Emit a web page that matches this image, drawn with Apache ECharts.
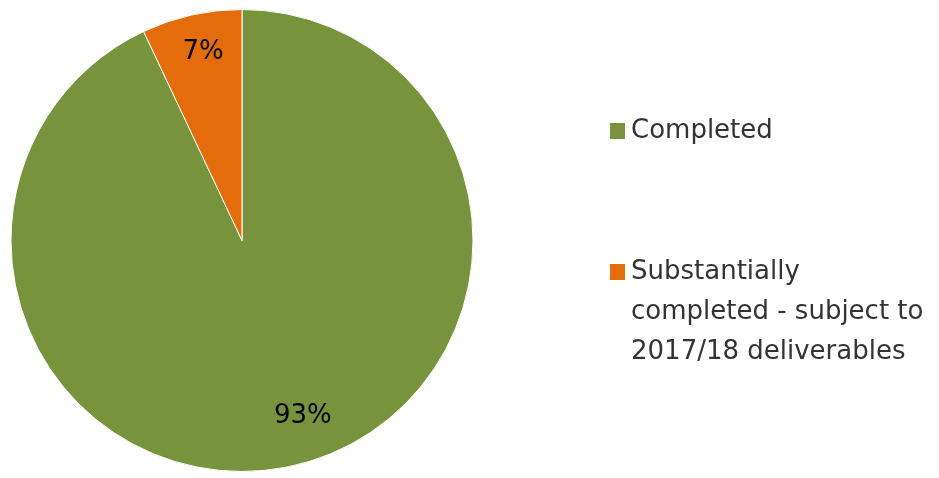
<!DOCTYPE html>
<html>
<head>
<meta charset="utf-8">
<script src="https://cdn.jsdelivr.net/npm/echarts@6/dist/echarts.min.js"></script>
<style>html,body{margin:0;padding:0;background:#fff}#c{width:939px;height:478px}</style>
</head>
<body>
<div id="c"></div>
<script>
const categories = ['Completed', 'Substantially completed - subject to 2017/18 deliverables'];
const legendLabels = ['Completed', '\n\nSubstantially\ncompleted - subject to\n2017/18 deliverables'];
const values = [93, 7];
const colors = ['#77933C', '#E46C0A'];

const chart = echarts.init(document.getElementById('c'), null, {renderer: 'canvas'});
const font = 'DejaVu Sans';
const labelOffsets = [[35, 60], [-13, -73]];

const option = {
  animation: false,
  backgroundColor: '#ffffff',
  legend: [
    {
      orient: 'vertical', left: 608, top: 111, padding: 0,
      itemWidth: 17, itemHeight: 18, icon: 'rect',
      data: [categories[0]],
      formatter: () => legendLabels[0],
      textStyle: {fontFamily: font, fontSize: 26, color: '#333333', lineHeight: 40}
    },
    {
      orient: 'vertical', left: 608, top: 172, padding: 0,
      itemWidth: 17, itemHeight: 18, icon: 'rect',
      data: [categories[1]],
      formatter: () => legendLabels[1],
      textStyle: {fontFamily: font, fontSize: 26, color: '#333333', lineHeight: 40}
    }
  ],
  series: [{
    type: 'pie',
    center: [242, 240.5],
    radius: 231,
    startAngle: 90,
    clockwise: true,
    silent: true,
    itemStyle: {borderColor: '#ffffff', borderWidth: 1},
    label: {
      show: true, position: 'inside',
      formatter: p => p.value + '%',
      fontFamily: font, fontSize: 26, color: '#000000'
    },
    labelLine: {show: false},
    data: categories.map((c, i) => ({
      name: c, value: values[i],
      itemStyle: {color: colors[i]},
      label: {offset: labelOffsets[i]}
    }))
  }]
};
chart.setOption(option);
</script>
</body>
</html>
